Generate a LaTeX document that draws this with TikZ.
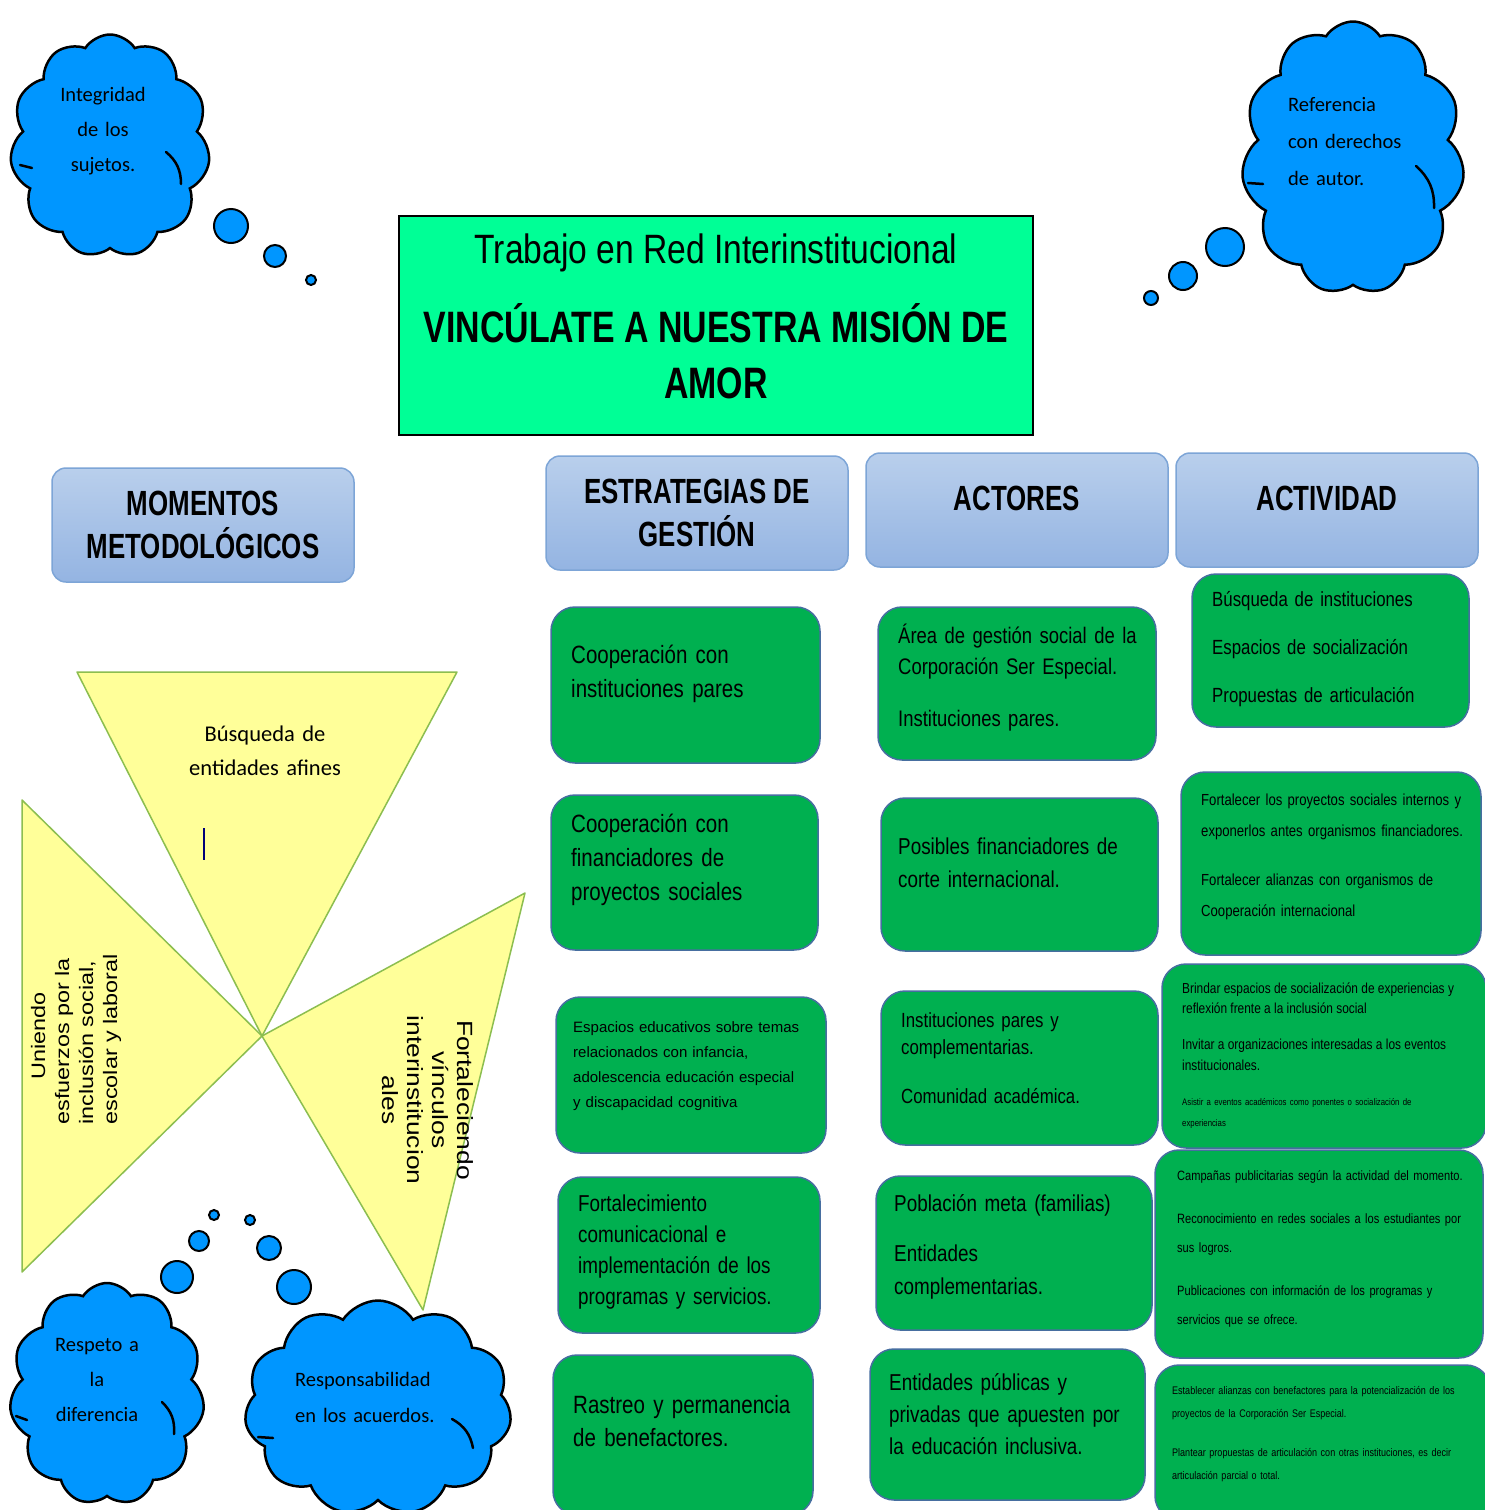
\documentclass[tikz,border=0pt]{standalone}
\usepackage{fontspec}
\setmainfont{Liberation Sans}
\newfontfamily\narrowf[FakeStretch=0.82]{Liberation Sans}
\newfontfamily\titlef[FakeStretch=0.77]{Liberation Sans}
\newfontfamily\headf[FakeStretch=0.74]{Liberation Sans}
\newfontfamily\widef[FakeStretch=1.2]{Liberation Sans}
\newfontfamily\calif{Carlito}
\usepackage{tikz}
\usetikzlibrary{shapes.symbols, positioning}
\definecolor{titlegreen}{RGB}{0,255,150}
\definecolor{cellgreen}{RGB}{0,176,80}
\definecolor{cellline}{RGB}{70,110,160}
\definecolor{hdrtop}{RGB}{185,207,236}
\definecolor{hdrbot}{RGB}{148,180,226}
\definecolor{hdrline}{RGB}{125,165,215}
\definecolor{triyellow}{RGB}{255,255,153}
\definecolor{triline}{RGB}{140,190,80}
\definecolor{cloudblue}{RGB}{0,150,255}
\definecolor{cursorblue}{RGB}{0,0,120}

\begin{document}
\begin{tikzpicture}[
    x=1pt, y=-1pt,
    hdr/.style={draw=hdrline, line width=1.5pt, top color=hdrtop, bottom color=hdrbot, rounded corners=14pt, minimum width=302, minimum height=114},
    hdrtext/.style={font=\headf\bfseries\fontsize{35}{43}\selectfont, align=center, inner sep=0},
    cell/.style={draw=cellline, fill=cellgreen, line width=1.5pt, rounded corners=24pt},
    txt/.style={inner sep=0, anchor=west, align=left, text width=#1},
    ctxt/.style={inner sep=0, align=center, text width=#1},
    tri/.style={draw=triline, fill=triyellow, line width=1.5pt, line join=round},
    thought/.style={cloud, cloud puffs=11, cloud puff arc=115, cloud ignores aspect, draw=black, fill=cloudblue, line width=2.5pt, inner sep=0},
    crease/.style={draw=black, line width=2.5pt, line cap=round},
    bubble/.style={circle, draw=black, fill=cloudblue, line width=2pt, inner sep=0}
]
\useasboundingbox (0,0) rectangle (1485,1510);
\clip (0,0) rectangle (1485,1510);
\fill[white] (0,0) rectangle (1485,1510);

% Title
\node[draw=black, line width=2pt, fill=titlegreen, minimum width=634, minimum height=219] (title) at (716,325.5) {};
\node[inner sep=0, font=\narrowf\fontsize{41}{48}\selectfont] (title1) at (716,253) {Trabajo en Red Interinstitucional};
\node[inner sep=0, font=\titlef\bfseries\fontsize{44}{52}\selectfont] (title2) at (716,323) {VINCÚLATE A NUESTRA MISIÓN DE};
\node[inner sep=0, font=\titlef\bfseries\fontsize{44}{52}\selectfont] (title3) at (716,383) {AMOR};

% Column headers
\node[hdr] (momentos) at (203,525) {};
\node[hdrtext] (momentost) at (momentos.center) {MOMENTOS\\METODOLÓGICOS};
\node[hdr] (estrategias) at (697,513) {};
\node[hdrtext] (estrategiast) at (estrategias.center) {ESTRATEGIAS DE\\GESTIÓN};
\node[hdr] (actores) at (1017,510) {};
\node[hdrtext] (actorest) at ([yshift=12]actores.center) {ACTORES};
\node[hdr] (actividad) at (1327,510) {};
\node[hdrtext] (actividadt) at ([yshift=12]actividad.center) {ACTIVIDAD};

% Estrategias de gestion
\node[cell, minimum width=269, minimum height=156] (est1) at (685.5,685) {};
\node[cell, minimum width=267, minimum height=155] (est2) at (684.5,872.5) {};
\node[cell, minimum width=270, minimum height=156] (est3) at (691,1075) {};
\node[cell, minimum width=262, minimum height=156] (est4) at (689,1255) {};
\node[cell, minimum width=260, minimum height=160] (est5) at (683,1435) {};
\node[txt=240, font=\narrowf\fontsize{25}{34}\selectfont] (est1t) at (571,674) {Cooperación con\\instituciones pares};
\node[txt=240, font=\narrowf\fontsize{25}{34}\selectfont] (est2t) at (571,860) {Cooperación con\\financiadores de\\proyectos sociales};
\node[txt=245, font=\fontsize{15}{25}\selectfont] (est3t) at (573,1066) {Espacios educativos sobre temas\\relacionados con infancia,\\adolescencia educación especial\\y discapacidad cognitiva};
\node[txt=235, font=\narrowf\fontsize{23}{31}\selectfont] (est4t) at (578,1252) {Fortalecimiento\\comunicacional e\\implementación de los\\programas y servicios.};
\node[txt=235, font=\narrowf\fontsize{25}{33}\selectfont] (est5t) at (573,1421) {Rastreo y permanencia\\de benefactores.};

% Actores
\node[cell, minimum width=278, minimum height=153] (act1) at (1017,683.5) {};
\node[cell, minimum width=277, minimum height=153] (act2) at (1019.5,874.5) {};
\node[cell, minimum width=277, minimum height=154] (act3) at (1019.5,1068) {};
\node[cell, minimum width=276, minimum height=154] (act4) at (1014,1253) {};
\node[cell, minimum width=275, minimum height=151] (act5) at (1007.5,1424.5) {};
\node[txt=250, font=\narrowf\fontsize{22.5}{31}\selectfont] (act1t) at (898,678) {Área de gestión social de la\\Corporación Ser Especial.\\[21pt]Instituciones pares.};
\node[txt=250, font=\narrowf\fontsize{23}{33}\selectfont] (act2t) at (898,863) {Posibles financiadores de\\corte internacional.};
\node[txt=250, font=\narrowf\fontsize{20.5}{27}\selectfont] (act3t) at (901,1058) {Instituciones pares y\\complementarias.\\[22pt]Comunidad académica.};
\node[txt=250, font=\narrowf\fontsize{23}{33}\selectfont] (act4t) at (894,1247) {Población meta (familias)\\[17pt]Entidades\\complementarias.};
\node[txt=250, font=\narrowf\fontsize{23}{32}\selectfont] (act5t) at (889,1414) {Entidades públicas y\\privadas que apuesten por\\la educación inclusiva.};

% Actividad
\node[cell, minimum width=277, minimum height=153] (acv1) at (1330.5,650.5) {};
\node[cell, minimum width=300, minimum height=183] (acv2) at (1331,863.5) {};
\node[cell, minimum width=324, minimum height=184] (acv3) at (1324,1056) {};
\node[cell, minimum width=328, minimum height=208] (acv4) at (1319,1254) {};
\node[cell, minimum width=335, minimum height=155] (acv5) at (1322.5,1442.5) {};
\node[txt=250, font=\narrowf\fontsize{20.5}{48}\selectfont] (acv1t) at (1212,649) {Búsqueda de instituciones\\Espacios de socialización\\Propuestas de articulación};
\node[txt=270, font=\narrowf\fontsize{16}{31}\selectfont] (acv2t) at (1201,857) {Fortalecer los proyectos sociales internos y\\exponerlos antes organismos financiadores.\\[18pt]\makebox[257pt][s]{Fortalecer alianzas con organismos de}\\Cooperación internacional};
\node[txt=295, font=\narrowf] (acv3t) at (1182,1056) {{\fontsize{14.5}{20}\selectfont Brindar espacios de socialización de experiencias y\\reflexión frente a la inclusión social\par}\vspace{15pt}{\fontsize{14.5}{21}\selectfont Invitar a organizaciones interesadas a los eventos\\institucionales.\par}\vspace{14pt}{\fontsize{9.5}{21}\selectfont\makebox[284pt][s]{Asistir a eventos académicos como ponentes o socialización de}\\experiencias\par}};
\node[txt=295, font=\narrowf\fontsize{13.5}{29}\selectfont] (acv4t) at (1177,1249) {Campañas publicitarias según la actividad del momento.\\[14pt]\makebox[285pt][s]{Reconocimiento en redes sociales a los estudiantes por}\\sus logros.\\[14pt]\makebox[285pt][s]{Publicaciones con información de los programas y}\\servicios que se ofrece.};
\node[txt=305, font=\narrowf\fontsize{11}{23}\selectfont] (acv5t) at (1172,1434) {\makebox[300pt][s]{Establecer alianzas con benefactores para la potencialización de los}\\proyectos de la Corporación Ser Especial.\\[16pt]\makebox[300pt][s]{Plantear propuestas de articulación con otras instituciones, es decir}\\articulación parcial o total.};

% Momentos metodologicos
\draw[tri] (77,672) -- (457,672) -- (262,1036) -- cycle;
\draw[tri] (22,800) -- (262,1036) -- (22,1272) -- cycle;
\draw[tri] (262,1036) -- (525,893) -- (423,1310) -- cycle;
\draw[cursorblue, line width=2pt] (204,828) -- (204,860);
\node[ctxt=200, font=\calif\fontsize{22.5}{34}\selectfont] (busqueda) at (265,751) {Búsqueda de\\entidades afines};
\node[ctxt=180, rotate=90, font=\widef\fontsize{19.5}{24}\selectfont] (uniendo) at (76,1036) {Uniendo\\\makebox[177pt][s]{esfuerzos por la}\\\makebox[177pt][s]{inclusión social,}\\\makebox[177pt][s]{escolar y laboral}};
\node[ctxt=200, rotate=-90, font=\widef\fontsize{22}{25}\selectfont] (fortaleciendo) at (428,1100) {Fortaleciendo\\vínculos\\interinstitucion\\ales};

% Clouds
\node[thought, minimum width=200, minimum height=223] (integridad) at (110,146) {};
\node[thought, minimum width=223, minimum height=273] (referencia) at (1353,158) {};
\node[thought, minimum width=195, minimum height=222] (respeto) at (107,1394) {};
\node[thought, minimum width=267, minimum height=215] (responsabilidad) at (378,1408) {};
\draw[crease] (166,152) to[bend left=25] (181,184);
\draw[crease] (20,165) -- (32,168);
\draw[crease] (1416,166) to[bend left=25] (1434,208);
\draw[crease] (1248,183) -- (1263,184);
\draw[crease] (162,1402) to[bend left=25] (174,1434);
\draw[crease] (16,1416) -- (27,1420);
\draw[crease] (452,1419) to[bend left=25] (473,1448);
\draw[crease] (258,1437) -- (273,1438);
\foreach \bx/\by/\bd/\bn in {231/226/34/i1, 275/256/22/i2, 311/280/10/i3,
    1225/247/38/r1, 1183/276/28/r2, 1151/298/14/r3,
    177/1277/32/d1, 199/1241/20/d2, 214/1215/10/d3,
    294/1287/34/a1, 269/1248/24/a2, 250/1220/10/a3}
  \node[bubble, minimum size=\bd] (bub\bn) at (\bx,\by) {};
\node[ctxt=150, font=\calif\fontsize{20.5}{35}\selectfont] (integridadt) at (103,131.5) {Integridad\\de los\\sujetos.};
\node[txt=160, font=\calif\fontsize{20.5}{37}\selectfont] (referenciat) at (1288,142) {Referencia\\con derechos\\de autor.};
\node[ctxt=150, font=\calif\fontsize{20.5}{35}\selectfont] (respetot) at (97,1380) {Respeto a\\la\\diferencia};
\node[txt=190, font=\calif\fontsize{20.5}{36}\selectfont] (responsabilidadt) at (295,1397) {Responsabilidad\\en los acuerdos.};

\end{tikzpicture}
\end{document}
